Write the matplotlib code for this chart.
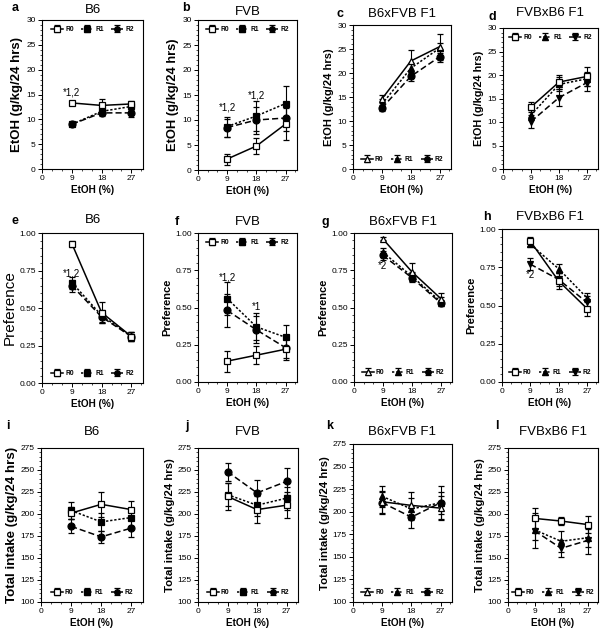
import numpy as np
import matplotlib
matplotlib.use("Agg")
import matplotlib.pyplot as plt
from matplotlib.ticker import MultipleLocator

plt.rcParams['font.family'] = ['Liberation Sans', 'DejaVu Sans']

etoh = [9, 18, 27]
groups = ['R0', 'R1', 'R2']

# EtOH intake (g/kg/24 hrs)
a_mean = [[13.3, 12.8, 13.1], [9.0, 11.6, 12.6], [9.0, 11.3, 11.3]]
a_err = [[0.4, 1.3, 0.5], [0.4, 0.6, 0.8], [0.4, 0.6, 0.8]]
b_mean = [[2.2, 4.8, 9.2], [8.7, 10.8, 13.3], [8.5, 10.0, 10.4]]
b_err = [[1.1, 1.6, 3.2], [2.0, 3.0, 3.6], [1.8, 2.7, 2.5]]
c_mean = [[14.6, 22.5, 25.5], [13.5, 21.0, 25.2], [12.7, 19.3, 23.4]]
c_err = [[0.9, 2.3, 2.7], [1.0, 1.0, 1.0], [0.7, 1.0, 1.2]]
d_mean = [[13.2, 18.5, 19.7], [11.5, 18.0, 19.2], [10.1, 15.2, 18.4]]
d_err = [[1.0, 1.5, 2.0], [1.0, 1.5, 1.5], [1.3, 1.8, 1.8]]

# Preference
e_mean = [[0.93, 0.47, 0.31], [0.67, 0.45, 0.31], [0.65, 0.44, 0.31]]
e_err = [[0.02, 0.07, 0.03], [0.04, 0.04, 0.03], [0.04, 0.04, 0.03]]
f_mean = [[0.14, 0.18, 0.22], [0.56, 0.37, 0.30], [0.48, 0.35, 0.23]]
f_err = [[0.07, 0.06, 0.07], [0.11, 0.09, 0.08], [0.11, 0.09, 0.07]]
g_mean = [[0.96, 0.74, 0.56], [0.87, 0.71, 0.54], [0.85, 0.70, 0.53]]
g_err = [[0.01, 0.06, 0.04], [0.03, 0.03, 0.03], [0.03, 0.03, 0.02]]
h_mean = [[0.92, 0.66, 0.48], [0.90, 0.74, 0.55], [0.77, 0.67, 0.52]]
h_err = [[0.03, 0.05, 0.05], [0.02, 0.03, 0.03], [0.04, 0.04, 0.04]]

# Total intake (g/kg/24 hrs)
i_mean = [[201, 211, 205], [204, 191, 196], [186, 174, 184]]
i_err = [[7, 14, 10], [10, 10, 10], [8, 7, 10]]
j_mean = [[220, 205, 210], [222, 210, 218], [248, 224, 237]]
j_err = [[15, 15, 15], [13, 12, 13], [10, 15, 15]]
k_mean = [[211, 207, 204], [217, 203, 210], [210, 194, 210]]
k_err = [[12, 15, 13], [12, 12, 12], [12, 12, 18]]
l_mean = [[195, 192, 188], [182, 169, 173], [181, 161, 170]]
l_err = [[12, 5, 10], [12, 12, 10], [20, 10, 15]]

titles = ['B6', 'FVB', 'B6xFVB F1', 'FVBxB6 F1']
letters = 'abcdefghijkl'

markers_inbred = ['s', 's', 'o']
markers_b6fvb = ['^', '^', 'o']
markers_fvbb6 = ['s', '^', 'v']
styles = ['-', (0, (1.5, 1.2)), (0, (4, 2))]
fills = ['white', 'black', 'black']

fig = plt.figure(figsize=(6.12, 6.36), dpi=100)

# axes boxes in pixels: left, top, right, bottom
boxes = [
    (42, 20, 143, 169), (198, 20, 297, 170), (353, 25, 451, 169), (503, 28, 598, 169),
    (42, 233, 143, 383), (198, 233, 297, 382), (354, 233, 452, 382), (502, 229, 598, 382),
    (41, 448, 143, 602), (198, 448, 298, 602), (353, 444, 452, 602), (508, 448, 598, 602),
]
letter_pos = [(12, 8), (182, 8), (336, 14), (488, 17),
              (12, 221), (175, 222), (322, 222), (483, 217),
              (6, 426), (185, 426), (326, 426), (495, 426)]
title_y = [10, 12, 14, 13, 220, 222, 222, 217, 432, 432, 432, 432]
ylabel_size = [9.5, 9.3, 8, 7.8, 11, 8, 8, 8, 9.6, 8.2, 8.2, 8.2]
ylabel_weight = ['bold'] * 4 + ['normal'] + ['bold'] * 7

means = [a_mean, b_mean, c_mean, d_mean, e_mean, f_mean, g_mean, h_mean,
         i_mean, j_mean, k_mean, l_mean]
errs = [a_err, b_err, c_err, d_err, e_err, f_err, g_err, h_err,
        i_err, j_err, k_err, l_err]

W, H = 612, 636
for n in range(12):
    row, col = divmod(n, 4)
    l, t, r, b = boxes[n]
    ax = fig.add_axes([l / W, 1 - b / H, (r - l) / W, (b - t) / H])
    mk = [markers_inbred, markers_inbred, markers_b6fvb, markers_fvbb6][col]
    hs = []
    for g in range(3):
        h = ax.errorbar(etoh, means[n][g], yerr=errs[n][g], color='black',
                        linestyle=styles[g], lw=1.1, marker=mk[g], ms=5,
                        mfc=fills[g], mec='black', mew=0.9, capsize=2.5,
                        elinewidth=0.8, capthick=0.8, label=groups[g],
                        zorder=3 - g)
        hs.append(h)
    ax.set_xlim(0, 30.5)
    ax.xaxis.set_major_locator(MultipleLocator(9))
    ax.xaxis.set_minor_locator(MultipleLocator(3))
    ylab_kw = dict(fontsize=ylabel_size[n], fontweight=ylabel_weight[n], labelpad=2)
    if row == 0:
        ax.set_ylim(0, 30)
        ax.yaxis.set_major_locator(MultipleLocator(5))
        ax.yaxis.set_minor_locator(MultipleLocator(1))
        ax.set_ylabel('EtOH (g/kg/24 hrs)', **ylab_kw)
    elif row == 1:
        ax.set_ylim(0, 1)
        ax.yaxis.set_major_locator(MultipleLocator(0.25))
        ax.yaxis.set_minor_locator(MultipleLocator(0.05))
        ax.yaxis.set_major_formatter(matplotlib.ticker.FormatStrFormatter('%.2f'))
        ax.set_ylabel('Preference', **ylab_kw)
    else:
        ax.set_ylim(100, 275)
        ax.yaxis.set_major_locator(MultipleLocator(25))
        ax.yaxis.set_minor_locator(MultipleLocator(5))
        ax.set_ylabel('Total intake (g/kg/24 hrs)', **ylab_kw)
    ax.set_xlabel('EtOH (%)', fontsize=7.2, fontweight='bold', labelpad=2)
    ax.tick_params(which='major', labelsize=6, length=3, width=0.7, pad=1.5)
    ax.tick_params(which='minor', length=1.5, width=0.5)
    for s in ax.spines.values():
        s.set_linewidth(0.8)

    top_legend = n in (0, 1, 3, 5)
    ax.legend(handles=hs, loc='upper center' if top_legend else 'lower center',
              ncol=3, frameon=False, prop={'size': 4.8, 'weight': 'bold'},
              handlelength=1.8, handletextpad=0.3, columnspacing=1.1,
              markerscale=0.8, borderaxespad=0.5)

    fig.text(letter_pos[n][0] / W, 1 - letter_pos[n][1] / H, letters[n],
             fontsize=9, fontweight='bold', ha='left', va='center')
    fig.text((l + r) / 2 / W, 1 - title_y[n] / H, titles[col],
             fontsize=9.5, ha='center', va='center')

# significance marks
fig_axes = fig.axes
star_kw = dict(fontsize=7, ha='center', va='center')
fig_axes[0].text(9, 15.4, '*1,2', **star_kw)
fig_axes[1].text(9, 12.5, '*1,2', **star_kw)
fig_axes[1].text(18, 14.8, '*1,2', **star_kw)
fig_axes[4].text(9, 0.73, '*1,2', **star_kw)
fig_axes[5].text(9, 0.70, '*1,2', **star_kw)
fig_axes[5].text(18, 0.50, '*1', **star_kw)
fig_axes[6].text(9, 0.78, '*2', **star_kw)
fig_axes[7].text(9, 0.70, '*2', **star_kw)

fig.savefig('out.png', dpi=100)
